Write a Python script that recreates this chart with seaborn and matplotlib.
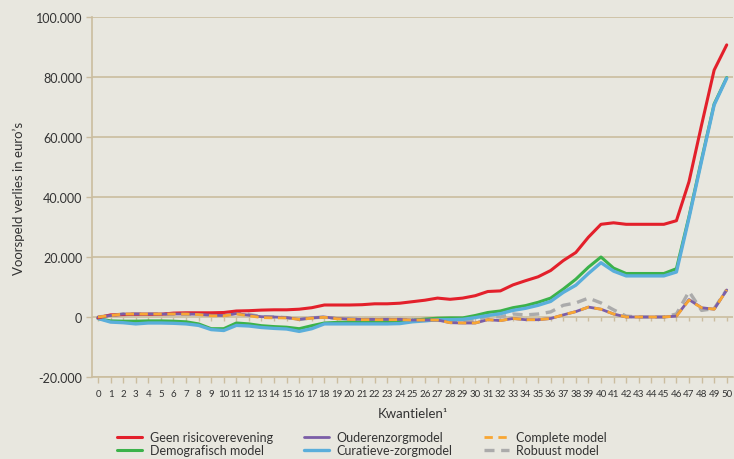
import numpy as np
import pandas as pd
import matplotlib
matplotlib.use("Agg")
import matplotlib.pyplot as plt
import seaborn as sns
from matplotlib.ticker import FuncFormatter, MultipleLocator

kwantielen = list(range(51))

geen = [-0.3, 0.7, 0.8, 0.9, 0.9, 0.9, 1.3, 1.4, 1.4, 1.4, 1.5, 2.0, 2.1, 2.3, 2.4, 2.4, 2.6, 3.1, 4.0, 4.0,
        4.0, 4.1, 4.4, 4.4, 4.6, 5.1, 5.6, 6.3, 5.9, 6.3, 7.1, 8.5, 8.7, 10.7, 12.1, 13.4, 15.5, 18.8, 21.5, 26.6,
        30.9, 31.4, 30.9, 30.9, 30.9, 30.9, 32.1, 45.1, 64.0, 82.3, 90.7]
demografisch = [-0.5, -1.3, -1.4, -1.4, -1.3, -1.3, -1.4, -1.6, -2.3, -3.9, -3.9, -2.0, -2.3, -2.9, -3.2, -3.4,
                -3.9, -2.9, -2.0, -1.8, -1.7, -1.7, -1.7, -1.7, -1.6, -1.1, -0.7, -0.4, -0.3, -0.3, 0.5, 1.5,
                2.0, 3.1, 3.8, 4.9, 6.3, 9.3, 12.6, 16.6, 20.0, 16.3, 14.5, 14.5, 14.5, 14.5, 16.1, 33.5, 52.5,
                71.0, 79.8]
curatief = [-0.5, -1.7, -1.9, -2.3, -2.0, -2.0, -2.1, -2.3, -2.8, -4.2, -4.5, -2.8, -3.0, -3.5, -3.8, -4.0, -4.8,
            -3.9, -2.3, -2.3, -2.3, -2.3, -2.3, -2.3, -2.2, -1.6, -1.3, -0.9, -0.9, -0.8, -0.2, 0.5, 1.1, 2.2,
            2.9, 3.9, 5.2, 8.2, 10.6, 14.5, 18.1, 15.3, 13.7, 13.7, 13.7, 13.7, 15.0, 33.0, 52.0, 70.7, 79.6]
ouderen = [0, 0.5, 1.0, 1.0, 1.0, 1.0, 1.0, 1.0, 0.9, 0.6, 0.5, 1.1, 0.6, 0.1, 0.0, -0.2, -0.8, -0.3, 0.0, -0.5,
           -0.7, -0.8, -0.8, -0.8, -0.8, -1.0, -1.0, -1.0, -1.9, -2.0, -2.0, -0.9, -1.2, -0.5, -0.9, -0.9, -0.5,
           0.7, 1.8, 3.3, 2.6, 1.0, 0.0, 0.0, 0.0, 0.0, 0.3, 5.8, 3.1, 2.6, 9.0]
compleet = [0, 0.5, 1.0, 1.0, 1.0, 1.0, 1.0, 1.0, 0.8, 0.4, 0.4, 1.0, 0.4, -0.2, -0.3, -0.3, -0.8, -0.4, -0.1,
            -0.6, -0.8, -0.9, -0.9, -0.9, -0.9, -1.0, -1.0, -1.0, -1.9, -2.0, -2.0, -0.9, -1.2, -0.5, -0.9, -0.9,
            -0.5, 0.7, 1.8, 3.3, 2.6, 1.0, 0.0, 0.0, 0.0, 0.0, 0.3, 5.6, 3.1, 2.6, 9.0]
robuust = [0, 0.5, 1.0, 1.0, 1.0, 1.0, 1.0, 1.0, 0.9, 0.7, 0.7, 1.3, 0.9, 0.1, 0.0, -0.2, -0.8, -0.3, 0.0, -0.5,
           -0.7, -0.8, -0.8, -0.8, -0.8, -1.0, -1.0, -1.1, -1.4, -1.4, -1.1, 0.3, 0.0, 1.0, 0.7, 1.0, 1.7, 3.9,
           4.7, 6.3, 4.7, 2.4, 0.3, 0.0, 0.0, 0.0, 1.0, 8.5, 2.2, 2.8, 9.1]

series_names = ["Geen risicoverevening", "Demografisch model", "Ouderenzorgmodel",
                "Curatieve-zorgmodel", "Complete model", "Robuust model"]
series_values = [geen, demografisch, ouderen, curatief, compleet, robuust]

rows = []
for name, vals in zip(series_names, series_values):
    for k, v in zip(kwantielen, vals):
        rows.append({"Kwantiel": k, "Verlies": v * 1000, "Model": name})
df = pd.DataFrame(rows)

bg = "#e8e7df"
grid = "#cbbd9f"
txt = "#333333"

sns.set_theme(style="white")
plt.rcParams["font.family"] = ["Lato", "DejaVu Sans"]

fig = plt.figure(figsize=(7.34, 4.6), dpi=100, facecolor=bg)
ax = fig.add_axes([92 / 734, 82 / 460, 641 / 734, 360 / 460])
ax.set_facecolor(bg)

styles = {
    "Geen risicoverevening": dict(color="#e3202b", lw=2.2, ls="-", z=6),
    "Demografisch model": dict(color="#3bb24a", lw=2.2, ls="-", z=4),
    "Curatieve-zorgmodel": dict(color="#5aaedb", lw=2.4, ls="-", z=5),
    "Ouderenzorgmodel": dict(color="#7b5ea7", lw=2.0, ls="-", z=7),
    "Complete model": dict(color="#f8a633", lw=2.0, ls=(0, (3, 2)), z=8),
    "Robuust model": dict(color="#ababab", lw=2.4, ls=(0, (3, 2)), z=3),
}

for name in series_names:
    st = styles[name]
    sub = df[df["Model"] == name]
    sns.lineplot(data=sub, x="Kwantiel", y="Verlies", ax=ax, color=st["color"],
                 linewidth=st["lw"], linestyle=st["ls"], zorder=st["z"], label=name)

ax.set_xlim(-0.48, 50.5)
ax.set_ylim(-20000, 100000)
ax.yaxis.set_major_locator(MultipleLocator(20000))
ax.yaxis.set_major_formatter(FuncFormatter(lambda v, p: f"{int(v):,}".replace(",", ".")))
ax.set_xticks(kwantielen)
ax.set_xticklabels([str(k) for k in kwantielen], fontsize=7, color=txt)
ax.tick_params(axis="y", labelsize=9, colors=txt, direction="out", length=4, color=grid, width=1, pad=3)
ax.tick_params(axis="x", direction="out", length=4, color=grid, width=1, pad=5, labelsize=7, labelcolor=txt)
ax.tick_params(axis="x", which="both", bottom=True)
ax.tick_params(axis="y", which="both", left=True)

ax.grid(axis="y", color=grid, linewidth=1.2, zorder=0)
ax.set_axisbelow(True)
for s in ["top", "right"]:
    ax.spines[s].set_visible(False)
ax.spines["left"].set_color(grid)
ax.spines["left"].set_linewidth(1.2)
ax.spines["bottom"].set_color(grid)
ax.spines["bottom"].set_linewidth(1.2)

# zero line tick marks
sec = ax.secondary_xaxis(1 / 6)
sec.set_xticks(kwantielen)
sec.set_xticklabels([])
sec.tick_params(axis="x", direction="out", length=3, color=grid, width=1)
sec.spines["bottom"].set_visible(False)
sec.spines["top"].set_visible(False)
for s in sec.spines.values():
    s.set_color(grid)

ax.set_xlabel("Kwantielen¹", fontsize=9.5, color=txt, labelpad=6)
ax.set_ylabel("Voorspeld verlies in euro’s", fontsize=9.5, color=txt, labelpad=8)

handles, labels = ax.get_legend_handles_labels()
ax.get_legend().remove()
fig.legend(handles, labels, ncol=3, loc="upper left", bbox_to_anchor=(117 / 734, 1 - 432 / 460),
           bbox_transform=fig.transFigure, borderaxespad=0, borderpad=0,
           frameon=False, fontsize=9, labelspacing=0.1, columnspacing=2.5, handlelength=2.0,
           handletextpad=0.6, labelcolor=txt)

fig.savefig("out.png", dpi=100, facecolor=bg)
